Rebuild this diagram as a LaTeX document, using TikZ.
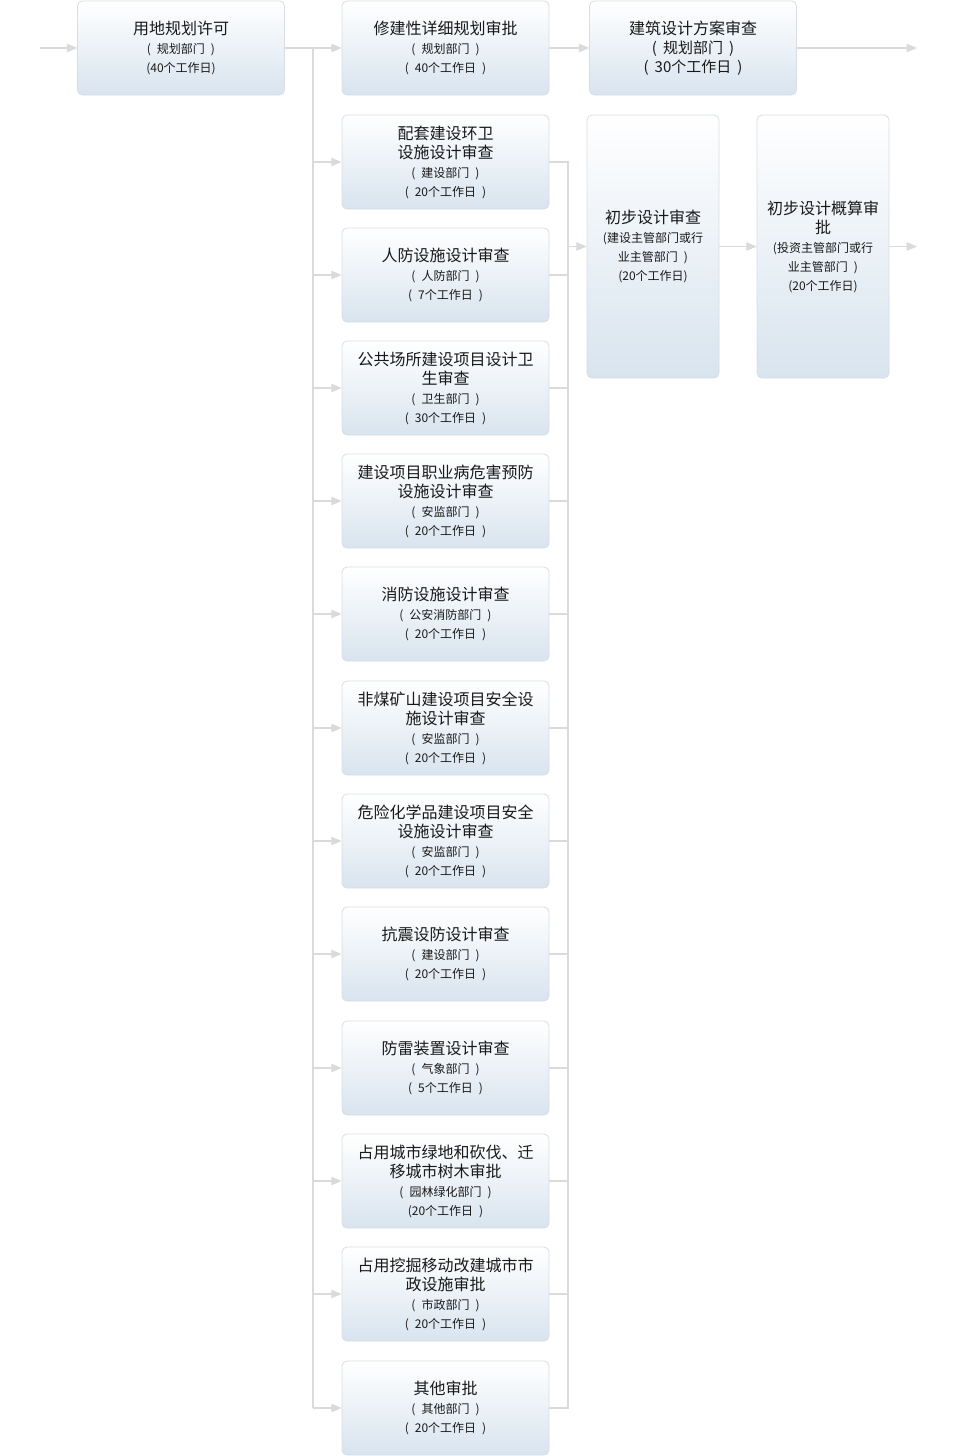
\documentclass[tikz,border=0pt]{standalone}
\usepackage{fontspec}
\setmainfont{Noto Sans CJK SC}
\usetikzlibrary{arrows}

\definecolor{boxline}{HTML}{D9DDE2}
\definecolor{boxfill}{HTML}{D8E4EF}
\definecolor{wire}{HTML}{DADADA}

\newcommand{\boxhead}[1]{{\fontsize{16}{20}\selectfont #1}}
\newcommand{\boxbig}[1]{{\fontsize{15}{19}\selectfont #1}}
\newcommand{\paren}[1]{(\hspace{6pt}#1\hspace{6pt})}

\begin{document}
\begin{tikzpicture}[x=1pt, y=-1pt, every text node part/.style={align=center},
  font=\fontsize{12}{19}\selectfont]

\tikzstyle{box}=[draw=boxline, line width=0.8pt, rounded corners=5pt, top color=white, bottom color=boxfill,
  minimum width=207pt, minimum height=94pt, inner sep=0pt, text=black!90]
\tikzstyle{tall}=[box, minimum width=132pt, minimum height=263pt]
\tikzstyle{link}=[draw=wire, line width=1.4pt]
\tikzstyle{arr}=[link, -triangle 45]

\useasboundingbox (0, 0) rectangle (955, 1456);

% top row
\node (landuse)  [box] at (181, 48)    {\boxhead{用地规划许可}\\\paren{规划部门}\\(40个工作日)};
\node (detplan)  [box] at (445.5, 48)  {\boxhead{修建性详细规划审批}\\\paren{规划部门}\\\paren{40个工作日}};
\node (archplan) [box] at (693, 48)    {\boxhead{建筑设计方案审查}\\\boxbig{\paren{规划部门}}\\\boxbig{\paren{30个工作日}}};

% parallel reviews
\node (sanit)     [box] at (445.5, 162)  {\boxhead{配套建设环卫}\\\boxhead{设施设计审查}\\\paren{建设部门}\\\paren{20个工作日}};
\node (airdef)    [box] at (445.5, 275)  {\boxhead{人防设施设计审查}\\\paren{人防部门}\\\paren{7个工作日}};
\node (pubhealth) [box] at (445.5, 388)  {\boxhead{公共场所建设项目设计卫}\\\boxhead{生审查}\\\paren{卫生部门}\\\paren{30个工作日}};
\node (occhealth) [box] at (445.5, 501)  {\boxhead{建设项目职业病危害预防}\\\boxhead{设施设计审查}\\\paren{安监部门}\\\paren{20个工作日}};
\node (fire)      [box] at (445.5, 614)  {\boxhead{消防设施设计审查}\\\paren{公安消防部门}\\\paren{20个工作日}};
\node (mine)      [box] at (445.5, 728)  {\boxhead{非煤矿山建设项目安全设}\\\boxhead{施设计审查}\\\paren{安监部门}\\\paren{20个工作日}};
\node (chem)      [box] at (445.5, 841)  {\boxhead{危险化学品建设项目安全}\\\boxhead{设施设计审查}\\\paren{安监部门}\\\paren{20个工作日}};
\node (quake)     [box] at (445.5, 954)  {\boxhead{抗震设防设计审查}\\\paren{建设部门}\\\paren{20个工作日}};
\node (thunder)   [box] at (445.5, 1068) {\boxhead{防雷装置设计审查}\\\paren{气象部门}\\\paren{5个工作日}};
\node (green)     [box] at (445.5, 1181) {\boxhead{占用城市绿地和砍伐、迁}\\\boxhead{移城市树木审批}\\\paren{园林绿化部门}\\(20个工作日\hspace{6pt})};
\node (municipal) [box] at (445.5, 1294) {\boxhead{占用挖掘移动改建城市市}\\\boxhead{政设施审批}\\\paren{市政部门}\\\paren{20个工作日}};
\node (other)     [box] at (445.5, 1408) {\boxhead{其他审批}\\\paren{其他部门}\\\paren{20个工作日}};

% preliminary design
\node (prelim) [tall] at (653, 246.5) {\boxhead{初步设计审查}\\(建设主管部门或行\\业主管部门\hspace{6pt})\\(20个工作日)};
\node (budget) [tall] at (823, 246.5) {\boxhead{初步设计概算审}\\\boxhead{批}\\(投资主管部门或行\\业主管部门\hspace{6pt})\\(20个工作日)};

\coordinate (entry) at (40, 48);
\coordinate (lbus)  at (313, 48);
\coordinate (rbus)  at (568, 0);
\coordinate (exitA) at (917, 48);
\coordinate (exitB) at (917, 246.5);

\path [arr] (entry) -- (landuse);
\path [arr] (landuse) -- (detplan);
\path [arr] (detplan) -- (archplan);
\path [arr] (archplan) -- (exitA);
\path [link] (lbus) -- (lbus |- other.west);
\path [arr] (lbus |- sanit)     -- (sanit);
\path [arr] (lbus |- airdef)    -- (airdef);
\path [arr] (lbus |- pubhealth) -- (pubhealth);
\path [arr] (lbus |- occhealth) -- (occhealth);
\path [arr] (lbus |- fire)      -- (fire);
\path [arr] (lbus |- mine)      -- (mine);
\path [arr] (lbus |- chem)      -- (chem);
\path [arr] (lbus |- quake)     -- (quake);
\path [arr] (lbus |- thunder)   -- (thunder);
\path [arr] (lbus |- green)     -- (green);
\path [arr] (lbus |- municipal) -- (municipal);
\path [arr] (lbus |- other)     -- (other);

\path [link] (sanit.east) -- (rbus |- sanit) -- (rbus |- other) -- (other.east);
\path [link] (airdef.east)    -- (rbus |- airdef);
\path [link] (pubhealth.east) -- (rbus |- pubhealth);
\path [link] (occhealth.east) -- (rbus |- occhealth);
\path [link] (fire.east)      -- (rbus |- fire);
\path [link] (mine.east)      -- (rbus |- mine);
\path [link] (chem.east)      -- (rbus |- chem);
\path [link] (quake.east)     -- (rbus |- quake);
\path [link] (thunder.east)   -- (rbus |- thunder);
\path [link] (green.east)     -- (rbus |- green);
\path [link] (municipal.east) -- (rbus |- municipal);
\path [arr] (rbus |- prelim) -- (prelim);
\path [arr] (prelim) -- (budget);
\path [arr] (budget) -- (exitB);
\end{tikzpicture}
\end{document}
